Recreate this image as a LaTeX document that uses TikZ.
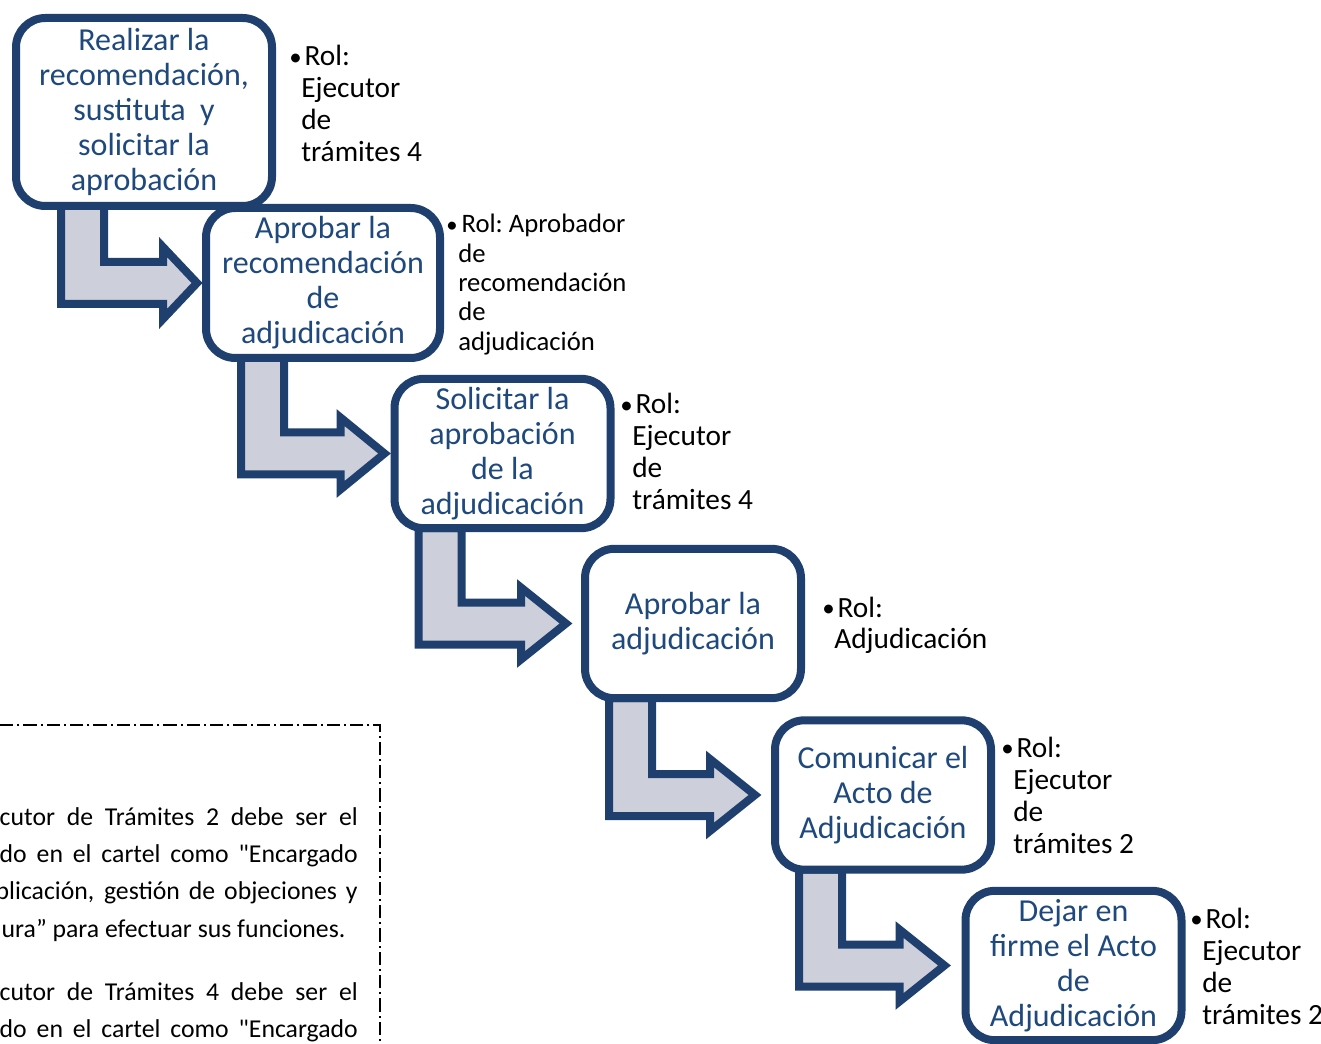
\documentclass[tikz,border=0pt]{standalone}
\usepackage{fontspec}
\setmainfont{Carlito}
\newfontfamily\carlito{Carlito}
\usetikzlibrary{calc}

\definecolor{boxline}{HTML}{1F3F6E}
\definecolor{boxtext}{HTML}{1F497D}
\definecolor{arrowfill}{HTML}{CDD0DA}

\pgfdeclarelayer{background}
\pgfsetlayers{background,main}

\tikzset{
  stepbox/.style={draw=boxline, line width=6pt, fill=white, rounded corners=22pt,
    text=boxtext, align=center, inner sep=0pt, outer sep=0pt,
    font=\carlito\fontsize{24}{26.25}\selectfont},
  arrowshape/.style={draw=boxline, fill=arrowfill, line width=6pt, line join=miter},
  roltext/.style={anchor=base west, inner sep=0pt, font=\carlito\fontsize{22}{24}\selectfont},
  notebox/.style={line width=1.1pt, dash pattern=on 10pt off 3pt on 1.5pt off 3pt},
  notetext/.style={anchor=base east, inner sep=0pt, font=\carlito\fontsize{19.3}{28.1}\selectfont}
}

% bullet with hanging lines
\newcommand{\rolitem}[1]{\makebox[9pt][l]{\raisebox{0.5pt}{\scalebox{0.85}{\textbullet}}}%
  \begin{tabular}[t]{@{}l@{}}\hspace{2.5pt}#1\end{tabular}}
% bent arrow: source, target, stem offset, tip gap, head length (px)
\newcommand{\steparrow}[5]{%
  \draw[arrowshape] let \p1=(#1.south west), \p2=(#2.west),
      \p3=($(\p1)+(#3,0)$), \p4=($(\p3)+(43,0)$),
      \p5=($(\p2)+(-#4,0)$),
      \p6=($(\p5)+(-#5,21)$), \p7=($(\p5)+(-#5,36)$),
      \p8=($(\p5)+(-#5,-36)$), \p9=($(\p5)+(-#5,-21)$)
    in (\x3,\y1) -- (\x3,\y6) -- (\p6) -- (\p7) -- (\p5) -- (\p8) -- (\p9)
       -- (\x4,\y9) -- (\x4,\y1) -- cycle;}

\begin{document}
\begin{tikzpicture}[x=0.75pt, y=-0.75pt]
    \useasboundingbox (0,0) rectangle (1321,1044);

    % Steps
    \node[stepbox, minimum width=192pt, minimum height=141pt] (b1) at (144,112)
        {Realizar la\\recomendación,\\sustituta \ y\\solicitar la\\aprobación};
    \node[stepbox, minimum width=175.5pt, minimum height=112.5pt] (b2) at (323,283)
        {Aprobar la\\recomendación\\de\\adjudicación};
    \node[stepbox, minimum width=162pt, minimum height=112pt] (b3) at (502.5,453.5)
        {Solicitar la\\aprobación\\de la\\adjudicación};
    \node[stepbox, minimum width=162pt, minimum height=112pt] (b4) at (693,623.5)
        {Aprobar la\\adjudicación};
    \node[stepbox, minimum width=162pt, minimum height=112pt] (b5) at (883,795)
        {Comunicar el\\Acto de\\Adjudicación};
    \node[stepbox, minimum width=162pt, minimum height=112pt] (b6) at (1073.5,965.5)
        {Dejar en\\firme el Acto\\de\\Adjudicación};

    % Arrows between steps
    \begin{pgfonlayer}{background}
        \steparrow{b1}{b2}{45}{9}{34}
        \steparrow{b2}{b3}{35}{10}{44}
        \steparrow{b3}{b4}{24}{19}{45}
        \steparrow{b4}{b5}{24}{20}{45}
        \steparrow{b5}{b6}{24}{21}{45}
    \end{pgfonlayer}

    % Roles
    \node[roltext] (rol1) at (289,66) {\rolitem{Rol:\\Ejecutor\\de\\trámites 4}};
    \node[roltext, font=\carlito\fontsize{20}{22}\selectfont] (rol2) at (446,233)
        {\rolitem{Rol:\hspace{-1.5pt} Aprobador\\de\\recomendación\\de\\adjudicación}};
    \node[roltext] (rol3) at (620,414) {\rolitem{Rol:\\Ejecutor\\de\\trámites 4}};
    \node[roltext] (rol4) at (822,617) {\rolitem{Rol:\\Adjudicación}};
    \node[roltext] (rol5) at (1001,757) {\rolitem{Rol:\\Ejecutor\\de\\trámites 2}};
    \node[roltext] (rol6) at (1190,928) {\rolitem{Rol:\\Ejecutor\\de\\trámites 2}};

    % Note box (cut by the page edge)
    \draw[notebox] (-20,725) rectangle (380,1100);
    \node[notetext] (nota1) at (358,825) {\begin{tabular}[t]{@{}r@{}}
        \makebox[268.5pt][s]{cutor de Trámites 2 debe ser el}\\
        \makebox[268.5pt][s]{do en el cartel como "Encargado}\\
        \makebox[271.5pt][s]{blicación, gestión de objeciones y}\\
        \makebox[268.5pt][l]{\hspace{1.5pt}ura” para efectuar sus funciones.}
    \end{tabular}};
    \node[notetext] (nota2) at (358,1000) {\begin{tabular}[t]{@{}r@{}}
        \makebox[268.5pt][s]{cutor de Trámites 4 debe ser el}\\
        \makebox[268.5pt][s]{do en el cartel como "Encargado}
    \end{tabular}};
\end{tikzpicture}
\end{document}
